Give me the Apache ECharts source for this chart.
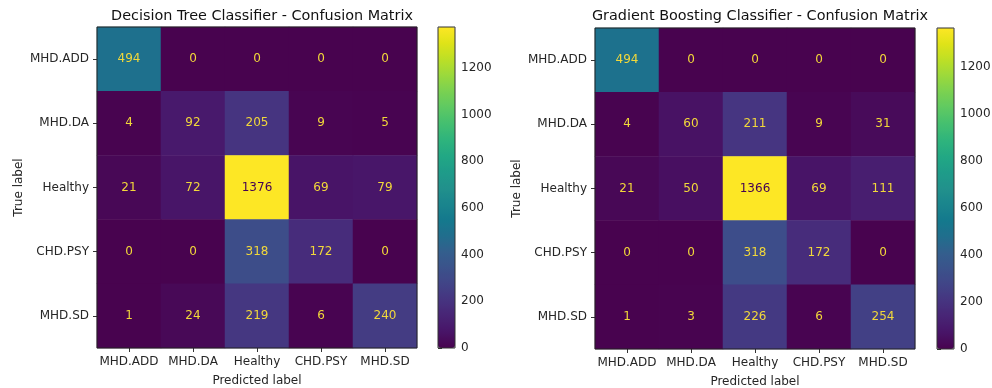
<!DOCTYPE html>
<html>
<head>
<meta charset="utf-8">
<script src="https://cdn.jsdelivr.net/npm/echarts@6/dist/echarts.min.js"></script>
<style>
  html, body { margin: 0; padding: 0; background: #fff; }
  #chart { width: 992px; height: 388px; }
</style>
</head>
<body>
<div id="chart"></div>
<script>
// Class labels (rows = true label, columns = predicted label)
const classes = ['MHD.ADD', 'MHD.DA', 'Healthy', 'CHD.PSY', 'MHD.SD'];

// Decision tree confusion matrix
const dtMatrix = [
  [494, 0, 0, 0, 0],
  [4, 92, 205, 9, 5],
  [21, 72, 1376, 69, 79],
  [0, 0, 318, 172, 0],
  [1, 24, 219, 6, 240]
];

// Gradient boosting confusion matrix
const gbMatrix = [
  [494, 0, 0, 0, 0],
  [4, 60, 211, 9, 31],
  [21, 50, 1366, 69, 111],
  [0, 0, 318, 172, 0],
  [1, 3, 226, 6, 254]
];

const titles = [
  'Decision Tree Classifier - Confusion Matrix',
  'Gradient Boosting Classifier - Confusion Matrix'
];

// Colorbar tick step
const colorbarStep = 200;

// viridis-style colormap stops (0 → 1 in steps of 0.05)
const viridis = ['#48034f', '#481467', '#482475', '#463480', '#414487', '#3b528b',
  '#335f8d', '#206e8d', '#14798d', '#1a858d', '#21918c', '#1e9c89', '#22a884',
  '#2fb47c', '#44bf70', '#5ec962', '#7ad151', '#9bd93c', '#bddf26', '#dfe318', '#fde725'];

const FONT = 'DejaVu Sans';
const TXT = '#262626';
const FS = 12;

function matrixMax(m) { return Math.max(...m.map(r => Math.max(...r))); }
function matrixMin(m) { return Math.min(...m.map(r => Math.min(...r))); }

function toData(m) {
  const mx = matrixMax(m), mn = matrixMin(m);
  const thresh = (mx + mn) / 2;
  const out = [];
  m.forEach((row, i) => row.forEach((v, j) => {
    out.push({
      value: [j, i, v],
      label: { color: v < thresh ? '#f2d83a' : '#440154' }
    });
  }));
  return out;
}

const panels = [
  { m: dtMatrix, gx: 97, gy: 27, cbx: 438 },
  { m: gbMatrix, gx: 595, gy: 28, cbx: 937 }
];
const W = 320, H = 321, CBW = 17;

const grid = [], xAxis = [], yAxis = [], series = [], visualMap = [], title = [];

panels.forEach((p, k) => {
  const mx = matrixMax(p.m);
  // heatmap grid
  grid.push({ left: p.gx, top: p.gy, width: W, height: H, show: true,
    borderColor: '#222', borderWidth: 1, backgroundColor: 'transparent', z: 10,
    outerBoundsMode: 'none', containLabel: false });
  xAxis.push({
    type: 'category', data: classes, gridIndex: 2 * k,
    name: 'Predicted label', nameLocation: 'middle', nameGap: 27,
    nameTextStyle: { fontFamily: FONT, fontSize: FS, color: TXT },
    axisLine: { show: false },
    axisTick: { show: true, alignWithLabel: true, length: 4, lineStyle: { color: '#333' } },
    axisLabel: { fontFamily: FONT, fontSize: FS, color: TXT, margin: 8, interval: 0 },
    splitLine: { show: false }
  });
  yAxis.push({
    type: 'category', data: classes, gridIndex: 2 * k, inverse: true,
    name: 'True label', nameLocation: 'middle', nameGap: 72, nameRotate: 90,
    nameTextStyle: { fontFamily: FONT, fontSize: FS, color: TXT },
    axisLine: { show: false },
    axisTick: { show: true, alignWithLabel: true, length: 4, lineStyle: { color: '#333' } },
    axisLabel: { fontFamily: FONT, fontSize: FS, color: TXT, margin: 8 },
    splitLine: { show: false }
  });
  series.push({
    type: 'heatmap', xAxisIndex: 2 * k, yAxisIndex: 2 * k,
    data: toData(p.m),
    label: { show: true, fontFamily: FONT, fontSize: FS, formatter: d => d.value[2] },
    itemStyle: { borderWidth: 0 },
    emphasis: { disabled: true }
  });
  // colorbar gradient
  visualMap.push({
    type: 'continuous', seriesIndex: k, dimension: 2, min: 0, max: mx,
    inRange: { color: viridis },
    left: p.cbx, top: p.gy, itemWidth: CBW, itemHeight: H,
    padding: 0, text: ['', ''], calculable: false, hoverLink: false,
    showLabel: false
  });
  // colorbar axis (ticks + outline)
  grid.push({ left: p.cbx, top: p.gy, width: CBW, height: H, show: true,
    borderColor: '#333', borderWidth: 1, backgroundColor: 'transparent', z: 10,
    outerBoundsMode: 'none', containLabel: false });
  xAxis.push({ type: 'value', gridIndex: 2 * k + 1, show: false });
  yAxis.push({
    type: 'value', gridIndex: 2 * k + 1, position: 'right', min: 0, max: mx,
    interval: colorbarStep,
    axisLine: { show: false },
    axisTick: { show: true, length: 4, lineStyle: { color: '#333' } },
    axisLabel: { fontFamily: FONT, fontSize: FS, color: TXT, margin: 6, showMaxLabel: false,
      formatter: v => String(v) },
    splitLine: { show: false }
  });
  title.push({
    text: titles[k], left: p.gx + W / 2, top: 4, textAlign: 'center',
    textStyle: { fontFamily: FONT, fontSize: 14.4, fontWeight: 'normal', color: '#111' }
  });
});

const chart = echarts.init(document.getElementById('chart'), null, { renderer: 'canvas' });
chart.setOption({
  animation: false,
  backgroundColor: '#fff',
  title, grid, xAxis, yAxis, series, visualMap
});
</script>
</body>
</html>
